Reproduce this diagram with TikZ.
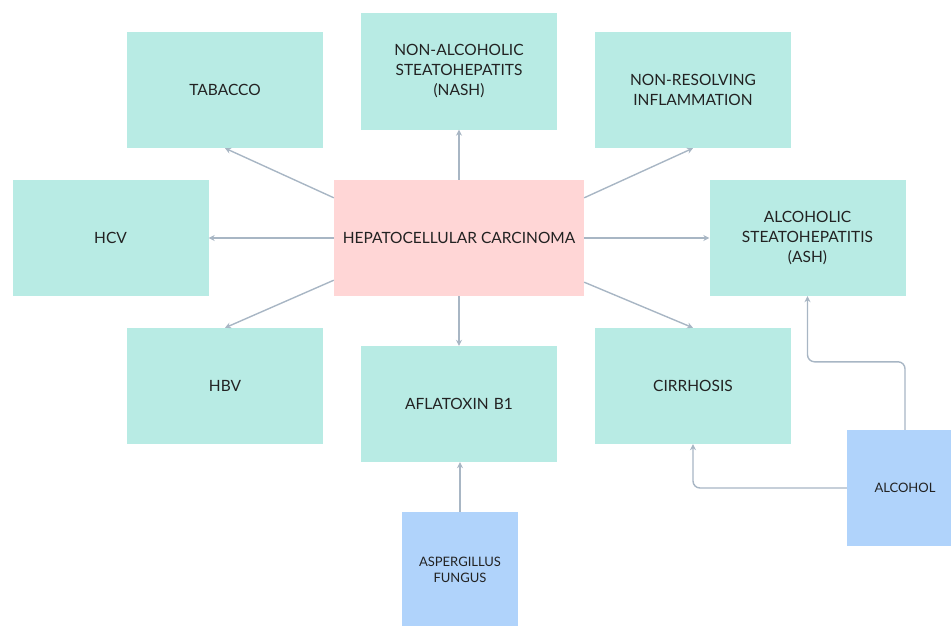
\documentclass[tikz,border=0pt]{standalone}
\usepackage{fontspec}
\setmainfont{Lato}
\usetikzlibrary{arrows.meta}
\definecolor{factorcol}{HTML}{B8EBE4}
\definecolor{centrecol}{HTML}{FFD6D6}
\definecolor{sourcecol}{HTML}{B0D3FB}
\definecolor{linkcol}{HTML}{A8B6C4}
\definecolor{labelcol}{HTML}{222222}
\begin{document}
\begin{tikzpicture}[
    factor/.style={rectangle, fill=factorcol, minimum width=196pt, minimum height=116pt, text width=190pt, align=center, text=labelcol, font=\fontsize{15.5pt}{20pt}\selectfont, inner sep=0pt},
    centre/.style={rectangle, fill=centrecol, minimum width=250pt, minimum height=116pt, align=center, text=labelcol, font=\fontsize{15.5pt}{20pt}\selectfont, inner sep=0pt},
    source/.style={rectangle, fill=sourcecol, minimum width=116pt, minimum height=116pt, text width=112pt, align=center, text=labelcol, font=\fontsize{13pt}{16pt}\selectfont, inner sep=0pt},
    link/.style={line width=1.4pt, color=linkcol, -{Stealth[length=6pt, width=6pt]}}]
				\useasboundingbox (0pt, 0pt) rectangle (951pt, -626pt);
				% factors round the centre
				\node (hcc) [centre] at (459pt, -238pt) {HEPATOCELLULAR CARCINOMA};
				\node (tabacco) [factor] at (225pt, -90pt) {TABACCO};
				\node (nash) [factor] at (459pt, -71.5pt) {NON-ALCOHOLIC\\STEATOHEPATITS\\(NASH)};
				\node (nonres) [factor] at (693pt, -90pt) {NON-RESOLVING\\INFLAMMATION};
				\node (hcv) [factor] at (110.5pt, -238pt) {HCV};
				\node (ash) [factor] at (807.5pt, -238pt) {ALCOHOLIC\\STEATOHEPATITIS\\(ASH)};
				\node (hbv) [factor] at (225pt, -386pt) {HBV};
				\node (aflatoxin) [factor] at (459pt, -404pt) {AFLATOXIN B1};
				\node (cirrhosis) [factor] at (693pt, -386pt) {CIRRHOSIS};
				% sources
				\node (aspergillus) [source] at (460pt, -570pt) {ASPERGILLUS\\FUNGUS};
				\node (alcohol) [source] at (905pt, -488pt) {ALCOHOL};
				\draw [link] ([yshift=-18pt]hcc.north west) to (tabacco.south);
				\draw [link] (hcc.north) to (nash.south);
				\draw [link] ([yshift=-18pt]hcc.north east) to (nonres.south);
				\draw [link] (hcc.west) to (hcv.east);
				\draw [link] (hcc.east) to (ash.west);
				\draw [link] ([yshift=16pt]hcc.south west) to (hbv.north);
				\draw [link] (hcc.south) to (aflatoxin.north);
				\draw [link] ([yshift=14pt]hcc.south east) to (cirrhosis.north);
				\draw [link] (aspergillus.north) to ([xshift=1pt]aflatoxin.south);
				\draw [link, rounded corners=7pt] (alcohol.west) -| (cirrhosis.south);
				\draw [link, rounded corners=7pt] (alcohol.north) -- ++(0pt, 68pt) -| (ash.south);
			\end{tikzpicture}
\end{document}
